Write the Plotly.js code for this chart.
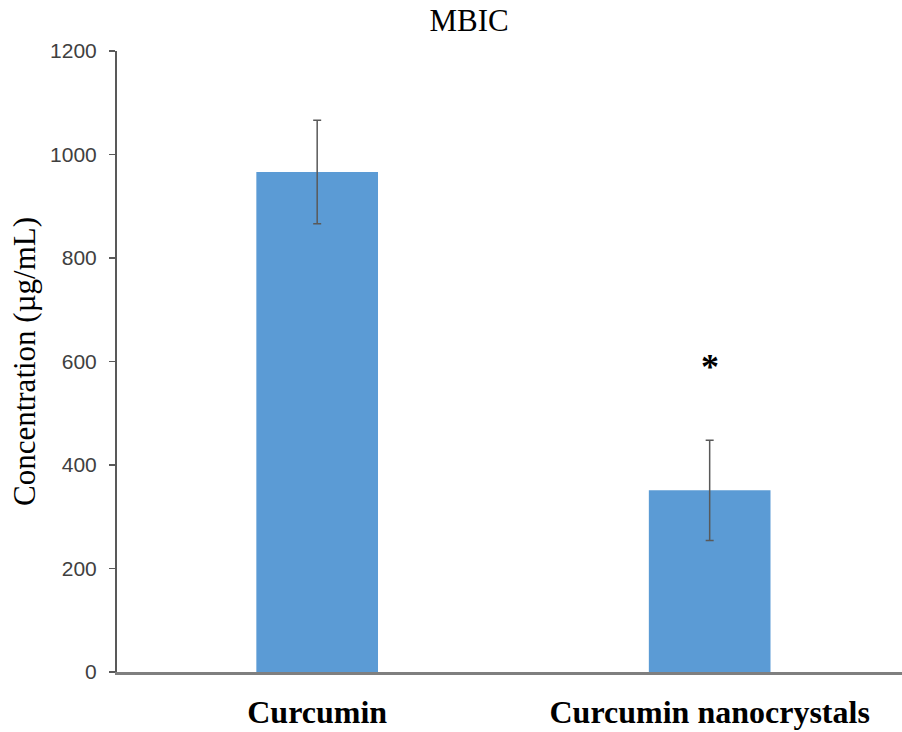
<!DOCTYPE html>
<html>
<head>
<meta charset="utf-8">
<script src="https://cdn.plot.ly/plotly-3.0.1.min.js"></script>
<style>html,body{margin:0;padding:0;background:#fff;}#chart{width:902px;height:732px;}</style>
</head>
<body>
<div id="chart"></div>
<script>
const categories = ["Curcumin", "Curcumin nanocrystals"];
const values = [966, 351];
const errors = [100, 97];
const sigMarks = ["", "*"];
const sigHeights = [0, 590];
const yTicks = [0, 200, 400, 600, 800, 1000, 1200];

const trace = {
  type: "bar",
  x: [0, 1],
  y: values,
  width: 0.31,
  marker: {color: "#5B9BD5"},
  error_y: {type: "data", array: errors, visible: true, color: "#595959", thickness: 1.5, width: 4},
  hoverinfo: "none"
};

const annotations = [];
sigMarks.forEach((s, i) => {
  if (s) annotations.push({x: i, y: sigHeights[i], xref: "x", yref: "y", text: "<b>" + s + "</b>", showarrow: false,
    font: {family: "Liberation Serif", size: 36, color: "#000"}});
});

const layout = {
  width: 902, height: 732,
  margin: {l: 117, r: 0, t: 51, b: 60},
  paper_bgcolor: "#fff", plot_bgcolor: "#fff",
  showlegend: false,
  title: {text: "MBIC", font: {family: "Liberation Serif", size: 31, color: "#000"}, x: 0.52, xanchor: "center", y: 0.972, yanchor: "middle"},
  xaxis: {
    range: [-0.51, 1.49],
    tickmode: "array", tickvals: [0, 1], ticktext: categories,
    tickfont: {family: "Liberation Serif", size: 32, color: "#000", weight: "bold"},
    ticks: "", ticklabelstandoff: 10,
    showline: true, linecolor: "#7f7f7f", linewidth: 2.5,
    showgrid: false, zeroline: false, fixedrange: true
  },
  yaxis: {
    range: [0, 1200],
    tickmode: "array", tickvals: yTicks,
    tickfont: {family: "Liberation Sans", size: 21, color: "#404040"},
    ticks: "outside", ticklen: 6, tickcolor: "#595959", tickwidth: 1.5,
    ticklabelstandoff: 8,
    showline: true, linecolor: "#595959", linewidth: 2,
    showgrid: false, zeroline: false, fixedrange: true,
    title: {text: "Concentration (µg/mL)", font: {family: "Liberation Serif", size: 31, color: "#000"}, standoff: 5}
  },
  annotations: annotations
};

Plotly.newPlot("chart", [trace], layout, {displayModeBar: false, staticPlot: true});
</script>
</body>
</html>
